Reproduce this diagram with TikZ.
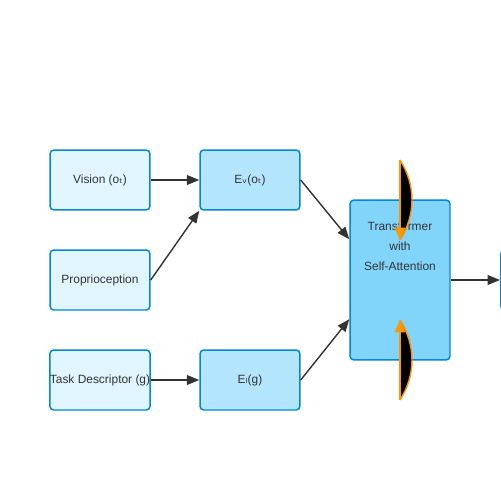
\documentclass[tikz,border=0pt]{standalone}
\usepackage{fontspec}
\setmainfont{Liberation Sans}
\newfontfamily\subfont{DejaVu Sans}
\usetikzlibrary{arrows.meta, positioning, calc}
\definecolor{boxline}{HTML}{0288D1}
\definecolor{inputfill}{HTML}{E1F5FE}
\definecolor{encfill}{HTML}{B3E5FC}
\definecolor{trfill}{HTML}{81D4FA}
\definecolor{arrowgray}{HTML}{333333}
\definecolor{attnorange}{HTML}{FF9800}
\tikzset{
  block/.style={draw=boxline, line width=0.85pt, rounded corners=2.2pt,
    minimum width=2cm, minimum height=1.2cm, inner sep=0pt,
    font=\fontsize{6.8}{8}\selectfont, text=arrowgray},
  inbox/.style={block, fill=inputfill},
  encbox/.style={block, fill=encfill},
  link/.style={draw=arrowgray, line width=0.8pt, -{Triangle[length=7pt,width=5.5pt]}},
}
\begin{document}
\begin{tikzpicture}[x=0.02cm, y=-0.02cm]
  \fill[white] (0,0) rectangle (500,500);
  \useasboundingbox (0,0) rectangle (500,500);

  % inputs
  \node[inbox] (vision) at (100,180) {Vision (o{\subfont ₜ})};
  \node[inbox] (proprio) at (100,280) {Proprioception};
  \node[inbox] (task) at (100,380) {Task Descriptor (g)};

  % encoders
  \node[encbox] (ev) at (250,180) {E{\subfont ᵥ}(o{\subfont ₜ})};
  \node[encbox] (eg) at (250,380) {E{\subfont ₗ}(g)};

  % transformer and output
  \node[block, fill=trfill, minimum height=3.2cm] (tr) at (400,280) {};
  \node[font=\fontsize{6.8}{11.3}\selectfont, text=arrowgray, align=center, anchor=north] (trtext) at (400,216) {Transformer\\with\\Self-Attention};
  \node[block, fill=trfill, anchor=west] (out) at (500,280) {};

  \coordinate (tin1) at ($(tr.north west)+(0,40)$);
  \coordinate (tin2) at ($(tr.north west)+(0,120)$);

  \draw[link] (vision) -- (ev);
  \draw[link] (proprio.east) -- (ev.south west);
  \draw[link] (task) -- (eg);
  \draw[link] (ev.east) -- (tin1);
  \draw[link] (eg.east) -- (tin2);
  \draw[link] (tr.east) -- (out.west);

  % attention arcs
  \coordinate (atop) at (400,160);
  \coordinate (amidtop) at (400,240);
  \coordinate (abot) at (400,400);
  \coordinate (amidbot) at (400,320);
  \fill[black] (atop) .. controls (416,185) and (416,215) .. (amidtop) -- cycle;
  \draw[attnorange, line width=0.8pt] (atop) .. controls (416,185) and (416,215) .. (amidtop);
  \draw[attnorange, line width=0.8pt, -{Triangle[length=7pt,width=6pt]}] (atop) -- (amidtop);
  \fill[black] (abot) .. controls (416,375) and (416,345) .. (amidbot) -- cycle;
  \draw[attnorange, line width=0.8pt] (abot) .. controls (416,375) and (416,345) .. (amidbot);
  \draw[attnorange, line width=0.8pt, -{Triangle[length=7pt,width=6pt]}] (abot) -- (amidbot);
\end{tikzpicture}
\end{document}
